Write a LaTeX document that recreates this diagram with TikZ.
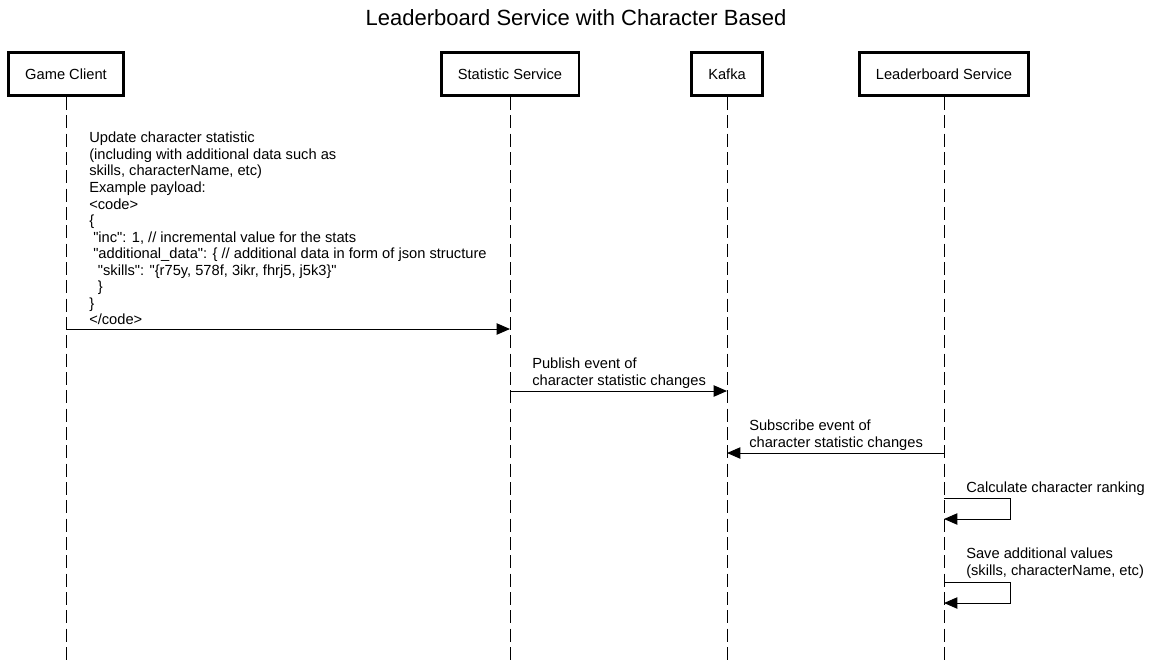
\documentclass[tikz,border=0pt]{standalone}
\usepackage{fontspec}
\setmainfont{Liberation Sans}
\usetikzlibrary{arrows.meta}
\newcommand{\msgfont}{\fontsize{11}{12.4}\selectfont}
\newcommand{\qq}{\textquotedbl}
\begin{document}
\begin{tikzpicture}[x=0.75pt,y=-0.75pt,
  actor/.style={draw,line width=2pt,minimum height=32.5pt,inner xsep=12.5pt,font=\msgfont},
  life/.style={line width=0.75pt,dash pattern=on 9.75pt off 4pt},
  msg/.style={line width=0.75pt,-{Triangle[length=10pt,width=8.5pt]}},
  note/.style={anchor=north west,align=left,inner sep=0pt,font=\msgfont}]
\useasboundingbox (0,0) rectangle (1152,661);
% title
\node (title) at (576,18) {\fontsize{16.5}{19}\selectfont Leaderboard Service with Character Based};
% participants
\node[actor] (gc) at (66,74) {Game Client};
\node[actor] (ss) at (510,74) {Statistic Service};
\node[actor] (kf) at (727,74) {Kafka};
\node[actor] (lb) at (944,74) {Leaderboard Service};
% lifelines
\coordinate (gc end) at (66,661);
\coordinate (ss end) at (510,661);
\coordinate (kf end) at (727,661);
\coordinate (lb end) at (944,661);
\draw[life] (gc) -- (gc end);
\draw[life] (ss) -- (ss end);
\draw[life] (kf) -- (kf end);
\draw[life] (lb) -- (lb end);
% update statistic
\coordinate (m1a) at (66,329);
\coordinate (m1b) at (510,329);
\draw[msg] (m1a) -- (m1b);
\node[note] (t1) at (89,132) {Update character statistic\\
(including with additional data such as\\
skills, characterName, etc)\\
Example payload:\\
<code>\\
\{\\
\hspace*{3pt}\qq inc\qq: 1, // incremental value for the stats\\
\hspace*{3pt}\qq additional\_data\qq: \{ // additional data in form of json structure\\
\hspace*{6.5pt}\qq skills\qq: \qq\{r75y, 578f, 3ikr, fhrj5, j5k3\}\qq\\
\hspace*{6.5pt}\}\\
\}\\
</code>};
% publish
\coordinate (m2a) at (510,391);
\coordinate (m2b) at (727,391);
\draw[msg] (m2a) -- (m2b);
\node[note] (t2) at (532,358) {Publish event of\\character statistic changes};
% subscribe
\coordinate (m3a) at (944,453);
\coordinate (m3b) at (727,453);
\draw[msg] (m3a) -- (m3b);
\node[note] (t3) at (749,420) {Subscribe event of\\character statistic changes};
% self calls
\coordinate (m4a) at (944,498);
\coordinate (m4b) at (944,519);
\draw[msg] (m4a) -- ++(66,0) |- (m4b);
\node[note] (t4) at (966,482) {Calculate character ranking};
\coordinate (m5a) at (944,582);
\coordinate (m5b) at (944,603);
\draw[msg] (m5a) -- ++(66,0) |- (m5b);
\node[note] (t5) at (966,548) {Save additional values\\(skills, characterName, etc)};
\end{tikzpicture}
\end{document}
